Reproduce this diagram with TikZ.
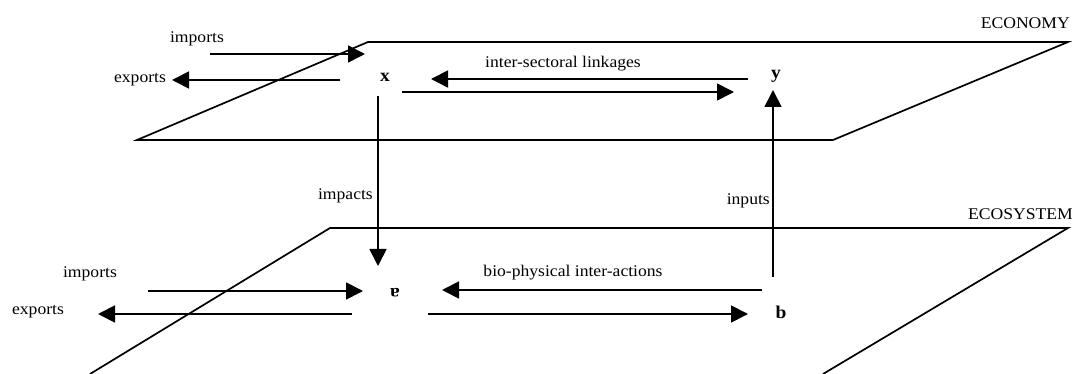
\documentclass[tikz,border=0pt]{standalone}
\usepackage{fontspec}
\setmainfont{Liberation Serif}[FakeStretch=1.08]
\usetikzlibrary{arrows.meta}
\begin{document}
\begin{tikzpicture}[x=1pt,y=-1pt,
  plane/.style={line width=1.7pt, line join=miter},
  flow/.style={line width=1.7pt, -{Triangle[length=17pt,width=17pt]}},
  lbl/.style={inner sep=0pt, font=\fontsize{16.3}{18}\selectfont},
  var/.style={inner sep=0pt, font=\fontsize{18}{20}\selectfont\bfseries}]
\useasboundingbox (0,0) rectangle (1072,374);

% economy plane
\draw[plane] (137,140) -- (368,42) -- (1068,42) -- (833,140) -- cycle;
% ecosystem plane (running off the lower edge)
\draw[plane] (90,374) -- (330,228) -- (1068,228) -- (823,374);

% plane titles
\node[lbl, anchor=east] (economy) at (1070,23) {ECONOMY};
\node[lbl, anchor=east] (ecosystem) at (1073,214) {ECOSYSTEM};

% sector and ecosystem variables
\node[var] (x) at (385,77) {x};
\node[var] (y) at (776,76) {y};
\node[var, rotate=180] (a) at (395,293) {a};
\node[var] (b) at (781,312) {b};

% economy flows
\coordinate (impE0) at (210,54);  \coordinate (impE1) at (365,54);
\coordinate (expE0) at (340,80);  \coordinate (expE1) at (172,80);
\coordinate (lkL0) at (748,79);   \coordinate (lkL1) at (431,79);
\coordinate (lkR0) at (402,92);   \coordinate (lkR1) at (734,92);
\draw[flow] (impE0) -- (impE1);
\draw[flow] (expE0) -- (expE1);
\draw[flow] (lkL0) -- (lkL1);
\draw[flow] (lkR0) -- (lkR1);
\node[lbl] (importsE) at (197,39) {imports};
\node[lbl] (exportsE) at (140,80) {exports};
\node[lbl] (linkages) at (563,64) {inter-sectoral linkages};

% exchanges between the two planes
\coordinate (impc0) at (378,96);  \coordinate (impc1) at (378,266);
\coordinate (inp0) at (773,277);  \coordinate (inp1) at (773,90);
\draw[flow] (impc0) -- (impc1);
\draw[flow] (inp0) -- (inp1);
\node[lbl, anchor=east] (impacts) at (373,196) {impacts};
\node[lbl, anchor=east] (inputs) at (770,201) {inputs};

% ecosystem flows
\coordinate (impS0) at (148,291); \coordinate (impS1) at (363,291);
\coordinate (expS0) at (352,314); \coordinate (expS1) at (98,314);
\coordinate (bpL0) at (762,290);  \coordinate (bpL1) at (442,290);
\coordinate (bpR0) at (428,314);  \coordinate (bpR1) at (748,314);
\draw[flow] (impS0) -- (impS1);
\draw[flow] (expS0) -- (expS1);
\draw[flow] (bpL0) -- (bpL1);
\draw[flow] (bpR0) -- (bpR1);
\node[lbl] (importsS) at (90,274) {imports};
\node[lbl] (exportsS) at (38,312) {exports};
\node[lbl] (bio) at (573,273) {bio-physical inter-actions};
\end{tikzpicture}
\end{document}
